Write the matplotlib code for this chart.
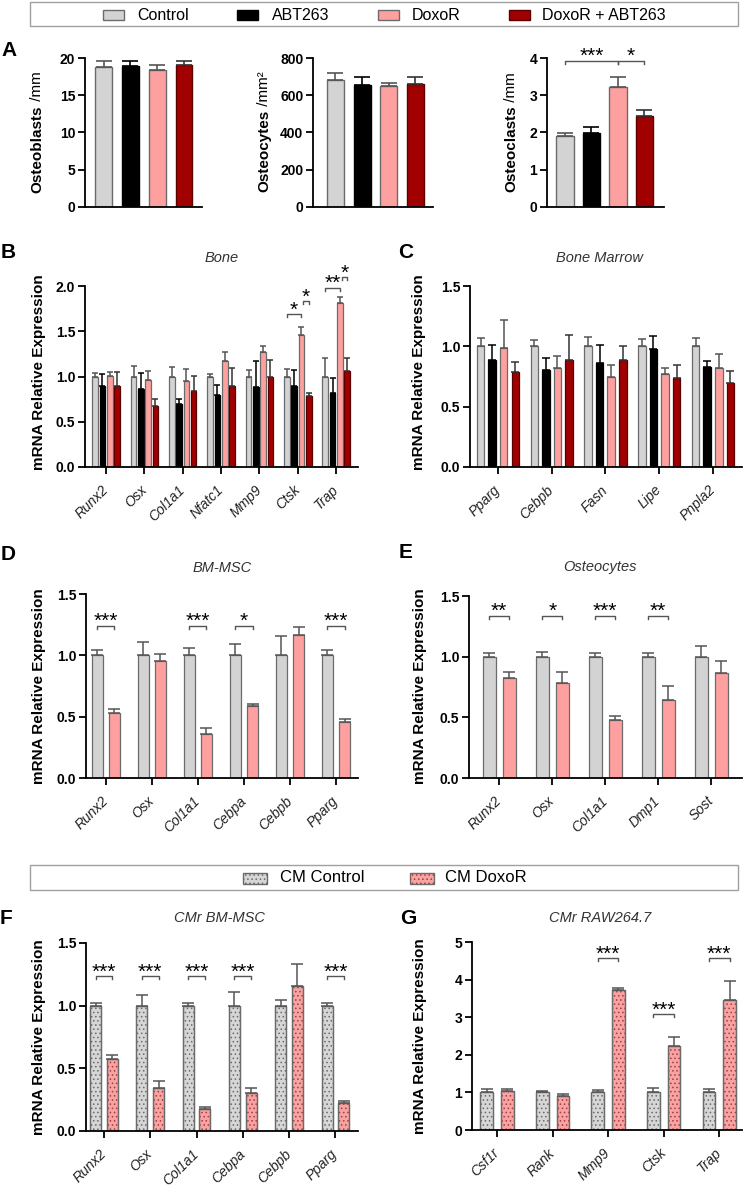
import matplotlib
matplotlib.use('Agg')
import matplotlib.pyplot as plt
from matplotlib.patches import Rectangle
import numpy as np

# ---------------- data ----------------
groups = ['Control', 'ABT263', 'DoxoR', 'DoxoR + ABT263']

A_ob = [18.8, 18.9, 18.4, 19.0]
A_ob_err = [0.8, 0.72, 0.72, 0.58]
A_oy = [682, 653, 648, 661]
A_oy_err = [40, 44, 18, 38]
A_oc = [1.91, 1.98, 3.23, 2.45]
A_oc_err = [0.08, 0.16, 0.27, 0.16]

B_genes = ['Runx2', 'Osx', 'Col1a1', 'Nfatc1', 'Mmp9', 'Ctsk', 'Trap']
B_ctrl = [1.0, 1.0, 1.0, 1.0, 1.0, 1.0, 1.0]
B_ctrl_err = [0.035, 0.12, 0.10, 0.03, 0.075, 0.085, 0.20]
B_abt = [0.89, 0.86, 0.70, 0.80, 0.88, 0.90, 0.82]
B_abt_err = [0.14, 0.18, 0.05, 0.11, 0.295, 0.17, 0.16]
B_dox = [1.01, 0.965, 0.95, 1.17, 1.275, 1.46, 1.81]
B_dox_err = [0.045, 0.10, 0.13, 0.10, 0.06, 0.09, 0.065]
B_doxabt = [0.89, 0.67, 0.845, 0.90, 0.99, 0.78, 1.066]
B_doxabt_err = [0.16, 0.085, 0.165, 0.195, 0.19, 0.04, 0.14]

C_genes = ['Pparg', 'Cebpb', 'Fasn', 'Lipe', 'Pnpla2']
C_ctrl = [1.0, 1.0, 1.0, 1.0, 1.0]
C_ctrl_err = [0.07, 0.055, 0.077, 0.058, 0.07]
C_abt = [0.89, 0.80, 0.862, 0.978, 0.829]
C_abt_err = [0.12, 0.10, 0.15, 0.105, 0.05]
C_dox = [0.99, 0.823, 0.75, 0.768, 0.82]
C_dox_err = [0.225, 0.10, 0.097, 0.052, 0.12]
C_doxabt = [0.787, 0.884, 0.887, 0.74, 0.699]
C_doxabt_err = [0.083, 0.21, 0.116, 0.108, 0.094]

D_genes = ['Runx2', 'Osx', 'Col1a1', 'Cebpa', 'Cebpb', 'Pparg']
D_ctrl = [1.0, 1.0, 1.0, 1.0, 1.0, 1.0]
D_ctrl_err = [0.046, 0.108, 0.062, 0.092, 0.16, 0.043]
D_dox = [0.53, 0.95, 0.357, 0.584, 1.165, 0.457]
D_dox_err = [0.03, 0.06, 0.048, 0.016, 0.067, 0.02]
D_sig = ['***', '', '***', '*', '', '***']

E_genes = ['Runx2', 'Osx', 'Col1a1', 'Dmp1', 'Sost']
E_ctrl = [1.0, 1.0, 1.0, 1.0, 1.0]
E_ctrl_err = [0.027, 0.036, 0.03, 0.027, 0.09]
E_dox = [0.824, 0.782, 0.482, 0.639, 0.868]
E_dox_err = [0.052, 0.094, 0.03, 0.121, 0.10]
E_sig = ['**', '*', '***', '**', '']

cm_groups = ['CM Control', 'CM DoxoR']
F_genes = ['Runx2', 'Osx', 'Col1a1', 'Cebpa', 'Cebpb', 'Pparg']
F_ctrl = [1.0, 1.0, 1.0, 1.0, 1.0, 1.0]
F_ctrl_err = [0.02, 0.088, 0.02, 0.107, 0.045, 0.019]
F_dox = [0.573, 0.344, 0.176, 0.307, 1.16, 0.224]
F_dox_err = [0.035, 0.056, 0.019, 0.034, 0.173, 0.016]
F_sig = ['***', '***', '***', '***', '', '***']

G_genes = ['Csf1r', 'Rank', 'Mmp9', 'Ctsk', 'Trap']
G_ctrl = [1.0, 1.0, 1.0, 1.0, 1.0]
G_ctrl_err = [0.10, 0.025, 0.07, 0.11, 0.10]
G_dox = [1.05, 0.90, 3.73, 2.244, 3.454]
G_dox_err = [0.03, 0.06, 0.05, 0.22, 0.50]
G_sig = ['', '', '***', '***', '***']

# ---------------- style ----------------
W, H = 747, 1186
plt.rcParams['font.family'] = ['Liberation Sans', 'DejaVu Sans']
plt.rcParams['hatch.linewidth'] = 0.6

FC = ['#D3D3D3', '#000000', '#FFA0A0', '#A00000']
EC = ['#6b6b6b', '#000000', '#6b6b6b', '#5a0000']
ERRC = ['#555555', '#000000', '#555555', '#333333']
CM_FC = ['#D6D6D6', '#F7A3A3']
CM_DOT = ['#6a6a6a', '#a83c3c']
CM_EC = ['#6b6b6b', '#6b6b6b']
SPINE_LW = 1.3
STAR_SIZE = 15

fig = plt.figure(figsize=(W / 100, H / 100), dpi=100)


def fx(x):
    return x / W


def fy(y):
    return 1 - y / H


def make_ax(l, t, r, b):
    return fig.add_axes([l / W, 1 - b / H, (r - l) / W, (b - t) / H])


def style_ax(ax, ylim, yticks, ylabels, xlim):
    ax.set_xlim(*xlim)
    ax.set_ylim(*ylim)
    for s in ['top', 'right']:
        ax.spines[s].set_visible(False)
    for s in ['left', 'bottom']:
        ax.spines[s].set_linewidth(SPINE_LW)
    ax.set_yticks(yticks, labels=ylabels, fontweight='bold', fontsize=10)
    ax.tick_params(axis='y', direction='out', length=5, width=SPINE_LW, pad=2)


def bracket(ax, x1, x2, y, stars, ppu, end_px=3):
    d = end_px / ppu
    ax.plot([x1, x1, x2, x2], [y - d, y, y, y - d], color='#555555', lw=1.0,
            clip_on=False, zorder=5)
    ax.text((x1 + x2) / 2, y - 1.5 / ppu, stars, ha='center', va='baseline', fontsize=STAR_SIZE,
            clip_on=False, zorder=5)


def px_text(x, y, s, **kw):
    fig.text(fx(x), fy(y), s, **kw)


# ---------------- legend 1 ----------------
fig.add_artist(Rectangle((fx(30), fy(26)), fx(738) - fx(30), fy(2) - fy(26),
                         transform=fig.transFigure, fill=False, edgecolor='#a0a0a0', lw=1.0))
leg1_patch_x = [103, 237, 378, 509]
leg1_text_x = [137, 272, 412, 542]
for i, g in enumerate(groups):
    fig.add_artist(Rectangle((fx(leg1_patch_x[i]), fy(19.5)), 21 / W, 9.5 / H,
                             transform=fig.transFigure, facecolor=FC[i], edgecolor=EC[i], lw=1.0))
    px_text(leg1_text_x[i], 15.5, g, ha='left', va='center', fontsize=11.5)

# ---------------- panel A ----------------
def panel_a(rect, xlim, vals, errs, ylim, yticks, width, cap):
    ax = make_ax(*rect)
    x = np.arange(len(vals))
    for i in range(len(vals)):
        ax.bar(x[i], vals[i], width, color=FC[i], edgecolor=EC[i], lw=1.0, zorder=2)
        ax.errorbar(x[i], vals[i], yerr=[[0], [errs[i]]], fmt='none', ecolor=ERRC[i],
                    elinewidth=1.2, capsize=cap, capthick=1.2, zorder=3)
    style_ax(ax, ylim, yticks, [str(t) for t in yticks], xlim)
    ax.set_xticks([])
    return ax


axA1 = panel_a((85, 58, 202, 207), (-0.69, 3.67), A_ob, A_ob_err, (0, 20), [0, 5, 10, 15, 20], 0.63, 6)
axA2 = panel_a((313, 58, 433, 207), (-0.84, 3.66), A_oy, A_oy_err, (0, 800), [0, 200, 400, 600, 800], 0.64, 6)
axA3 = panel_a((547, 58, 664, 207), (-0.68, 3.74), A_oc, A_oc_err, (0, 4), [0, 1, 2, 3, 4], 0.66, 6)
ppuA3 = 149 / 4
bracket(axA3, 0, 2, 3.93, '***', ppuA3)
bracket(axA3, 2, 3, 3.93, '*', ppuA3)


def split_ylabel(x, yc, bold, rest, size=11):
    t1 = fig.text(fx(x), 0.5, bold, rotation=90, fontweight='bold', fontsize=size,
                  ha='center', va='bottom')
    t2 = fig.text(fx(x), 0.5, rest, rotation=90, fontsize=size, ha='center', va='bottom')
    r = fig.canvas.get_renderer()
    h1 = t1.get_window_extent(r).height
    h2 = t2.get_window_extent(r).height
    start = (H - yc) - (h1 + h2) / 2
    t1.set_position((fx(x), start / H))
    t2.set_position((fx(x), (start + h1) / H))


split_ylabel(37, 132, 'Osteoblasts', ' /mm')
split_ylabel(264, 132, 'Osteocytes', ' /mm²')
split_ylabel(511, 132, 'Osteoclasts', ' /mm')

px_text(9, 51, 'A', fontsize=15, fontweight='bold', ha='center', va='center')

# ---------------- generic gene panel ----------------
def gene_panel(rect, xlim, genes, series, errs, fcs, ecs, errcs, width, step, ylim, yticks,
               ylabels, cap, hatch_dots=None):
    ax = make_ax(*rect)
    n = len(series)
    x = np.arange(len(genes))
    offs = (np.arange(n) - (n - 1) / 2) * step
    for k in range(n):
        ax.bar(x + offs[k], series[k], width, color=fcs[k], edgecolor=ecs[k], lw=0.9, zorder=2)
        if hatch_dots is not None:
            ax.bar(x + offs[k], series[k], width, facecolor='none', edgecolor=hatch_dots[k],
                   lw=0, hatch='....', zorder=2)
            ax.bar(x + offs[k], series[k], width, facecolor='none', edgecolor=ecs[k],
                   lw=0.9, zorder=2)
        ax.errorbar(x + offs[k], series[k], yerr=[np.zeros(len(genes)), errs[k]], fmt='none',
                    ecolor=errcs[k], elinewidth=1.1, capsize=cap, capthick=1.1, zorder=3)
    style_ax(ax, ylim, yticks, ylabels, xlim)
    ax.set_xticks(x, labels=genes, rotation=45, ha='right', va='center', rotation_mode='anchor',
                  fontstyle='italic', fontsize=10, color='#222222')
    ax.tick_params(axis='x', direction='out', length=5, width=SPINE_LW, pad=10)
    return ax, x, offs


def ylab(x, yc):
    px_text(x, yc, 'mRNA Relative Expression', rotation=90, fontweight='bold', fontsize=11,
            ha='center', va='center')


def title(x, y, s):
    px_text(x, y, s, fontstyle='italic', fontsize=10.5, color='#333333', ha='center', va='center')


def letter(x, y, s):
    px_text(x, y, s, fontsize=15, fontweight='bold', ha='center', va='center')


t05 = lambda top: [round(0.5 * i, 1) for i in range(int(top / 0.5) + 1)]

# B
axB, xB, oB = gene_panel((85, 286, 358, 467), (-0.55, 6.57), B_genes,
                         [B_ctrl, B_abt, B_dox, B_doxabt],
                         [B_ctrl_err, B_abt_err, B_dox_err, B_doxabt_err],
                         FC, EC, ERRC, 0.145, 0.19, (0, 2.0), t05(2.0),
                         ['%.1f' % v for v in t05(2.0)], 2.5)
ppuB = 181 / 2.0
bracket(axB, 5 + oB[0], 5 + oB[2], 1.69, '*', ppuB)
bracket(axB, 5 + oB[2] + 0.05, 5 + oB[3], 1.83, '*', ppuB)
bracket(axB, 6 + oB[0], 6 + oB[2], 1.98, '**', ppuB)
bracket(axB, 6 + oB[2] + 0.05, 6 + oB[3], 2.10, '*', ppuB)
ylab(39, 372)
title(222, 258, 'Bone')
letter(8, 252, 'B')

# C
axC, xC, oC = gene_panel((470, 286, 742, 467), (-0.52, 4.54), C_genes,
                         [C_ctrl, C_abt, C_dox, C_doxabt],
                         [C_ctrl_err, C_abt_err, C_dox_err, C_doxabt_err],
                         FC, EC, ERRC, 0.14, 0.215, (0, 1.5), t05(1.5),
                         ['%.1f' % v for v in t05(1.5)], 3)
ylab(419, 372)
title(600, 258, 'Bone Marrow')
letter(406, 253, 'C')

# D
axD, xD, oD = gene_panel((86, 594, 358, 778), (-0.43, 5.48), D_genes,
                         [D_ctrl, D_dox], [D_ctrl_err, D_dox_err],
                         [FC[0], FC[2]], [EC[0], EC[2]], [ERRC[0], ERRC[2]],
                         0.239, 0.376, (0, 1.5), t05(1.5), ['%.1f' % v for v in t05(1.5)], 4)
ppuD = 184 / 1.5
for i, s in enumerate(D_sig):
    if s:
        bracket(axD, i + oD[0], i + oD[1], 1.243, s, ppuD)
ylab(39, 686)
title(222, 568, 'BM-MSC')
letter(8, 555, 'D')

# E
axE, xE, oE = gene_panel((469, 596, 742, 778), (-0.57, 4.58), E_genes,
                         [E_ctrl, E_dox], [E_ctrl_err, E_dox_err],
                         [FC[0], FC[2]], [EC[0], EC[2]], [ERRC[0], ERRC[2]],
                         0.24, 0.378, (0, 1.5), t05(1.5), ['%.1f' % v for v in t05(1.5)], 4)
ppuE = 182 / 1.5
for i, s in enumerate(E_sig):
    if s:
        bracket(axE, i + oE[0], i + oE[1], 1.339, s, ppuE)
ylab(420, 686)
title(600, 567, 'Osteocytes')
letter(406, 553, 'E')

# ---------------- legend 2 ----------------
fig.add_artist(Rectangle((fx(30), fy(890)), fx(738) - fx(30), fy(865) - fy(890),
                         transform=fig.transFigure, fill=False, edgecolor='#a0a0a0', lw=1.0))
leg2_patch_x = [243, 410]
leg2_text_x = [280, 445]
for i, g in enumerate(cm_groups):
    fig.add_artist(Rectangle((fx(leg2_patch_x[i]), fy(884)), 24 / W, 11 / H,
                             transform=fig.transFigure, facecolor=CM_FC[i], edgecolor=CM_EC[i],
                             lw=1.0))
    fig.add_artist(Rectangle((fx(leg2_patch_x[i]), fy(884)), 24 / W, 11 / H,
                             transform=fig.transFigure, facecolor='none', edgecolor=CM_DOT[i],
                             lw=0, hatch='....'))
    px_text(leg2_text_x[i], 878, g, ha='left', va='center', fontsize=12)

# F
axF, xF, oF = gene_panel((86, 943, 358, 1131), (-0.39, 5.49), F_genes,
                         [F_ctrl, F_dox], [F_ctrl_err, F_dox_err],
                         CM_FC, CM_EC, [ERRC[0], ERRC[2]],
                         0.238, 0.36, (0, 1.5), t05(1.5), ['%.1f' % v for v in t05(1.5)], 4,
                         hatch_dots=CM_DOT)
ppuF = 188 / 1.5
for i, s in enumerate(F_sig):
    if s:
        bracket(axF, i + oF[0], i + oF[1], 1.235, s, ppuF)
ylab(39, 1037)
title(220, 918, 'CMr BM-MSC')
letter(6, 918, 'F')

# G
axG, xG, oG = gene_panel((472, 942, 742, 1130), (-0.45, 4.41), G_genes,
                         [G_ctrl, G_dox], [G_ctrl_err, G_dox_err],
                         CM_FC, CM_EC, [ERRC[0], ERRC[2]],
                         0.229, 0.372, (0, 5), [0, 1, 2, 3, 4, 5], ['0', '1', '2', '3', '4', '5'], 4,
                         hatch_dots=CM_DOT)
ppuG = 188 / 5
g_br = [0, 0, 4.576, 3.074, 4.576]
for i, s in enumerate(G_sig):
    if s:
        bracket(axG, i + oG[0], i + oG[1], g_br[i], s, ppuG)
ylab(420, 1036)
title(600, 918, 'CMr RAW264.7')
letter(408, 918, 'G')

fig.savefig('out.png', dpi=100)
